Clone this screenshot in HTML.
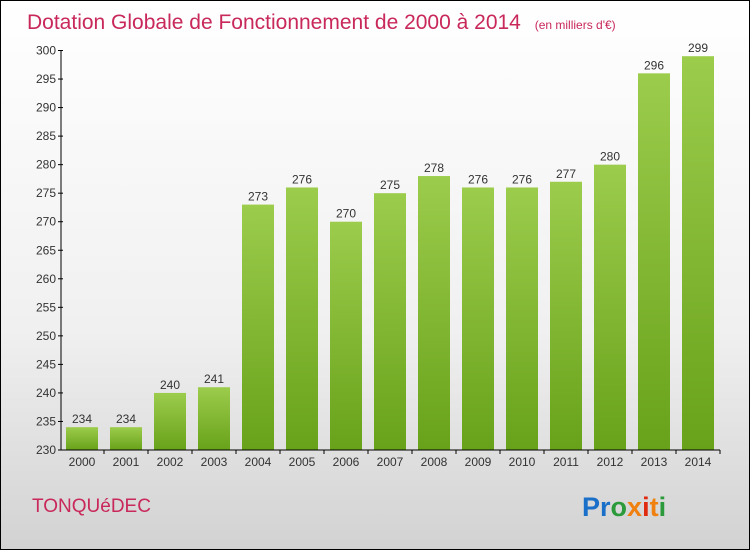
<!DOCTYPE html>
<html><head><meta charset="utf-8"><style>
body{margin:0}
#c{width:750px;height:550px;position:relative;box-sizing:border-box;border:1px solid #000;background:linear-gradient(#ffffff,#f0f0f0 60%,#d2d2d2);font-family:"Liberation Sans",sans-serif;overflow:hidden}
</style></head><body>
<div id="c">
<svg width="750" height="550" style="position:absolute;left:-1px;top:-1px">
<defs><linearGradient id="g" x1="0" y1="0" x2="0" y2="1"><stop offset="0" stop-color="#9ccc4c"/><stop offset="1" stop-color="#68a21a"/></linearGradient></defs>
<text x="27" y="29" font-size="21" fill="#c8285a">Dotation Globale de Fonctionnement de 2000 à 2014 <tspan font-size="12" dx="8">(en milliers d'€)</tspan></text>
<g id="bars"></g><g id="axes"></g>
<text x="32" y="512" font-size="19" fill="#c8285a">TONQUéDEC</text>
<text x="582" y="516" font-size="27" font-weight="bold"><tspan fill="#1a6fc8">Pr</tspan><tspan fill="#2a9a3a">o</tspan><tspan fill="#f08010">x</tspan><tspan fill="#e02a10">i</tspan><tspan fill="#f08010">t</tspan><tspan fill="#2a9a3a">i</tspan></text>
</svg>
</div>
<script>
const categories=["2000","2001","2002","2003","2004","2005","2006","2007","2008","2009","2010","2011","2012","2013","2014"];
const values=[234,234,240,241,273,276,270,275,278,276,276,277,280,296,299];
const yTicks=[230,235,240,245,250,255,260,265,270,275,280,285,290,295,300];
const NS="http://www.w3.org/2000/svg";
function y(v){return 450-(v-230)*(399.5/70);}
function x(i){return 82+i*44;}
function mk(t,a,p){const e=document.createElementNS(NS,t);for(const k in a)e.setAttribute(k,a[k]);p.appendChild(e);return e;}
const bars=document.getElementById('bars'),axes=document.getElementById('axes');
values.forEach((v,i)=>{
 const r=mk('rect',{x:x(i)-16,y:y(v),width:32,height:450-y(v),fill:'url(#g)'},bars);
 
 
 const t=mk('text',{x:x(i),y:y(v)-4,'font-size':12,'text-anchor':'middle',fill:'#333'},bars);
 t.textContent=v;
 
 
 const c=mk('text',{x:x(i),y:466,'font-size':12,'text-anchor':'middle',fill:'#333'},axes);
 c.textContent=categories[i];
 
 
 mk('line',{x1:x(i)+22,x2:x(i)+22,y1:450,y2:454,stroke:'#000'},axes);
});
mk('line',{x1:61,x2:61,y1:50,y2:450,stroke:'#000'},axes);
mk('line',{x1:61,x2:720,y1:450,y2:450,stroke:'#000'},axes);
yTicks.forEach(v=>{
 mk('line',{x1:58,x2:63,y1:y(v),y2:y(v),stroke:'#000'},axes);
 const t=mk('text',{x:56,y:y(v)+4,'font-size':12,'text-anchor':'end',fill:'#333'},axes);
 t.textContent=v;
 
 
});
</script>
</body></html>
